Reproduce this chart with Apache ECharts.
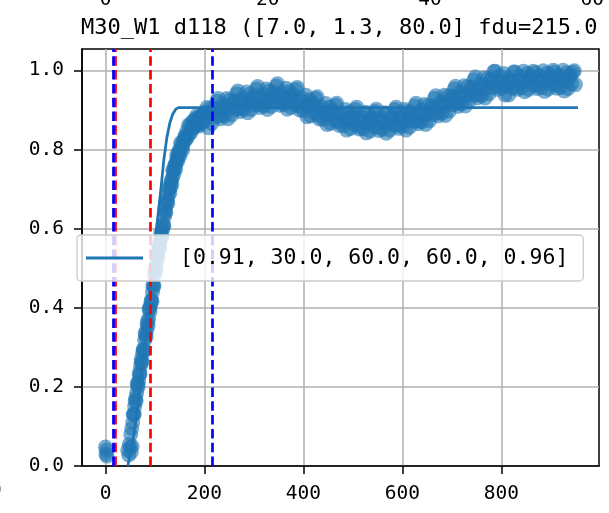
<!DOCTYPE html>
<html><head><meta charset="utf-8">
<script src="https://cdn.jsdelivr.net/npm/echarts@6/dist/echarts.min.js"></script>
<style>html,body{margin:0;padding:0;background:#fff}#c{width:609px;height:513px}</style>
</head><body><div id="c"></div>
<script>
// ---- data ----
const titleText = 'M30_W1 d118 ([7.0, 1.3, 80.0] fdu=215.0';
const legendLabel = '[0.91, 30.0, 60.0, 60.0, 0.96]';
const xTicks = [0, 200, 400, 600, 800];
const yTicks = [0, 0.2, 0.4, 0.6, 0.8, 1.0];
const topTicks = [0, 20, 40, 60];
const blueLines = [15, 215];
const redLines = [20, 91];

const scatterX = [0,1,2,3,5,10,15,20,25,30,35,40,
45,47,48,50,51,52,53,54,55,57,59,61,63,65,67,69,71,73,75,77,79,81,83,85,87,89,91,93,95,97,99,
101,103,105,107,109,111,113,115,117,119,121,123,125,127,129,131,133,135,137,139,141,143,145,147,149,
151,153,155,157,159,161,163,165,168,171,174,177,180,183,186,189,192,195,198,200,
205,210,215,220,225,230,235,240,245,250,255,260,265,270,275,280,285,290,295,300,
305,310,315,320,325,330,335,340,345,350,355,360,365,370,375,380,385,390,395,400,
405,410,415,420,425,430,435,440,445,450,455,460,465,470,475,480,485,490,495,500,
505,510,515,520,525,530,535,540,545,550,555,560,565,570,575,580,585,590,595,600,
605,610,615,620,625,630,635,640,645,650,655,660,665,670,675,680,685,690,695,700,
705,710,715,720,725,730,735,740,745,750,755,760,765,770,775,780,785,790,795,800,
805,810,815,820,825,830,835,840,845,850,855,860,865,870,875,880,885,890,895,900,
905,910,915,920,925,930,935,940,945,950];
const scatterY = [0.048,0.03,0.04,0.025,-0.04,-0.05,-0.05,-0.04,-0.05,-0.04,-0.04,-0.03,
0.040,0.028,0.055,0.048,0.080,0.035,0.095,0.050,0.110,0.130,0.150,0.172,0.185,0.205,0.215,0.238,0.255,0.262,0.285,0.295,0.318,0.330,0.342,0.365,0.372,0.398,0.405,0.420,0.440,0.452,0.482,
0.500,0.512,0.532,0.545,0.562,0.570,0.585,0.598,0.610,0.630,0.642,0.660,0.672,0.685,0.700,0.703,0.722,0.728,0.745,0.750,0.762,0.768,0.780,0.782,0.798,
0.796,0.812,0.805,0.822,0.818,0.835,0.828,0.848,0.838,0.862,0.850,0.872,0.858,0.878,0.862,0.882,0.866,0.886,0.870,0.890,
0.906,0.883,0.866,0.903,0.922,0.885,0.904,0.885,0.929,0.905,0.887,0.923,0.941,0.903,0.921,0.901,0.945,0.920,0.901,0.936,
0.953,0.914,0.931,0.910,0.953,0.928,0.909,0.944,0.960,0.920,0.936,0.914,0.955,0.928,0.906,0.938,0.952,0.910,0.923,0.898,
0.937,0.908,0.885,0.916,0.929,0.886,0.900,0.876,0.916,0.888,0.866,0.898,0.912,0.870,0.884,0.860,0.901,0.874,0.853,0.886,
0.901,0.860,0.875,0.852,0.894,0.867,0.847,0.880,0.896,0.856,0.872,0.851,0.893,0.868,0.849,0.884,0.901,0.862,0.879,0.858,
0.901,0.876,0.857,0.892,0.910,0.872,0.890,0.870,0.914,0.890,0.873,0.910,0.929,0.892,0.911,0.892,0.937,0.914,0.897,0.934,
0.953,0.916,0.935,0.916,0.961,0.938,0.921,0.958,0.976,0.938,0.956,0.936,0.981,0.958,0.941,0.978,0.997,0.960,0.977,0.955,
0.992,0.961,0.938,0.975,0.996,0.960,0.977,0.956,0.998,0.972,0.952,0.986,0.998,0.962,0.978,0.956,0.999,0.973,0.953,0.987,
1.000,0.963,0.979,0.957,1.000,0.974,0.954,0.988,0.995,0.964];

// second pass of samples (interleaved between the first ones)
const risingX2 = [56,58,60,62,64,66,68,70,72,74,76,78,80,82,84,86,88,90,92,94,96,98,100,
102,104,106,108,110,112,114,116,118,120,122,124,126,128,130,132,134,136,138,140,142,144,146,148,150,
152,156,160,164,168,172,176,180,184,188,192,196,200];
const risingY2 = [0.130,0.130,0.164,0.164,0.208,0.200,0.230,0.232,0.270,0.264,0.294,0.292,0.336,0.326,0.358,0.354,0.397,0.390,0.416,0.416,0.458,0.457,0.494,
0.492,0.534,0.528,0.557,0.552,0.590,0.580,0.608,0.606,0.648,0.641,0.670,0.664,0.704,0.690,0.716,0.711,0.748,0.737,0.760,0.751,0.786,0.771,0.794,0.783,
0.817,0.799,0.831,0.827,0.862,0.841,0.870,0.858,0.885,0.859,0.883,0.869,0.894];
const flatX2 = [207.5,212.5,217.5,222.5,227.5,232.5,237.5,242.5,247.5,252.5,257.5,262.5,267.5,272.5,277.5,282.5,287.5,292.5,297.5,302.5,
307.5,312.5,317.5,322.5,327.5,332.5,337.5,342.5,347.5,352.5,357.5,362.5,367.5,372.5,377.5,382.5,387.5,392.5,397.5,402.5,
407.5,412.5,417.5,422.5,427.5,432.5,437.5,442.5,447.5,452.5,457.5,462.5,467.5,472.5,477.5,482.5,487.5,492.5,497.5,502.5,
507.5,512.5,517.5,522.5,527.5,532.5,537.5,542.5,547.5,552.5,557.5,562.5,567.5,572.5,577.5,582.5,587.5,592.5,597.5,602.5,
607.5,612.5,617.5,622.5,627.5,632.5,637.5,642.5,647.5,652.5,657.5,662.5,667.5,672.5,677.5,682.5,687.5,692.5,697.5,702.5,
707.5,712.5,717.5,722.5,727.5,732.5,737.5,742.5,747.5,752.5,757.5,762.5,767.5,772.5,777.5,782.5,787.5,792.5,797.5,802.5,
807.5,812.5,817.5,822.5,827.5,832.5,837.5,842.5,847.5,852.5,857.5,862.5,867.5,872.5,877.5,882.5,887.5,892.5,897.5,902.5,
907.5,912.5,917.5,922.5,927.5,932.5,937.5,942.5,947.5];
const flatY2 = [0.855,0.904,0.895,0.882,0.929,0.878,0.913,0.902,0.878,0.926,0.916,0.902,0.948,0.896,0.930,0.918,0.893,0.940,0.929,0.914,
0.959,0.906,0.939,0.926,0.901,0.948,0.937,0.922,0.966,0.912,0.944,0.929,0.902,0.947,0.933,0.915,0.957,0.900,0.929,0.912,
0.883,0.926,0.911,0.892,0.933,0.877,0.907,0.891,0.863,0.907,0.893,0.875,0.917,0.861,0.891,0.876,0.849,0.894,0.881,0.864,
0.907,0.852,0.883,0.868,0.842,0.887,0.875,0.858,0.902,0.848,0.880,0.867,0.841,0.888,0.877,0.862,0.907,0.854,0.887,0.874,
0.849,0.896,0.885,0.871,0.917,0.865,0.899,0.887,0.863,0.911,0.902,0.889,0.936,0.885,0.920,0.909,0.886,0.935,0.926,0.913,
0.960,0.909,0.944,0.933,0.910,0.959,0.950,0.937,0.983,0.931,0.965,0.953,0.930,0.979,0.970,0.957,0.998,0.952,0.985,0.969,
0.938,0.979,0.967,0.955,0.996,0.952,0.985,0.972,0.946,0.992,0.980,0.964,0.994,0.954,0.986,0.972,0.947,0.993,0.981,0.965,
0.996,0.955,0.987,0.973,0.948,0.994,0.982,0.966,0.999];

const fitX = [45, 55, 65, 75, 85, 95, 105, 112, 118, 124, 130, 136, 142, 148, 955];
const fitY = [0, 0.06, 0.15, 0.26, 0.38, 0.50, 0.62, 0.70, 0.775, 0.83, 0.867, 0.89, 0.902, 0.906, 0.906];

// axis ranges
const xMin = -47.5, xMax = 997.5;
const yMin = 0, yMax = 1.054;
const topPerX = 16.4; // bottom-axis units per top-axis unit

const FONT = 'DejaVu Sans Mono';
const C = '#1f77b4';

const chart = echarts.init(document.getElementById('c'), null, {renderer: 'canvas'});
const pairs = (xs, ys) => xs.map((x, i) => [x, ys[i]]);
const scatterData = pairs(scatterX, scatterY).concat(pairs(risingX2, risingY2), pairs(flatX2, flatY2));
const fitData = pairs(fitX, fitY);
const dash = {type: [9.5, 4.3], width: 2.7};

chart.setOption({
  animation: false,
  backgroundColor: '#fff',
  title: {
    text: titleText, left: 81, top: 17, padding: 0,
    textStyle: {fontFamily: FONT, fontSize: 22, fontWeight: 'normal', color: '#000'}
  },
  grid: {left: 82, top: 49, right: 10, bottom: 47, outerBoundsMode: 'none', containLabel: false,
    show: true, borderColor: '#000', borderWidth: 1.5, backgroundColor: 'transparent'},
  legend: {
    left: 77, top: 235, orient: 'horizontal',
    padding: [12, 15, 12, 9],
    backgroundColor: 'rgba(255,255,255,0.8)', borderColor: '#cccccc', borderWidth: 1.3, borderRadius: 4,
    itemWidth: 57, itemHeight: 3,
    data: [{name: legendLabel, icon: 'rect'}],
    textStyle: {fontFamily: FONT, fontSize: 21.5, color: '#000', padding: [0, 0, 0, 32]},
    selectedMode: false, z: 10
  },
  xAxis: [{
    type: 'value', position: 'bottom', min: xMin, max: xMax, splitNumber: 5,
    axisLine: {show: true, onZero: false, lineStyle: {color: '#000', width: 1.5}},
    axisTick: {show: true, length: 8, customValues: xTicks, lineStyle: {color: '#000', width: 1.5}},
    axisLabel: {customValues: xTicks, margin: 18, fontFamily: FONT, fontSize: 19.5, color: '#000', formatter: v => String(v)},
    splitLine: {show: true, lineStyle: {color: '#b0b0b0', width: 1.5}}
  }, {
    type: 'value', position: 'top', min: xMin / topPerX, max: xMax / topPerX,
    axisLine: {show: false}, axisTick: {show: false}, splitLine: {show: false},
    axisLabel: {customValues: topTicks, margin: 39, fontFamily: FONT, fontSize: 19.5, color: '#000', formatter: v => String(v)}
  }],
  yAxis: {
    type: 'value', min: yMin, max: yMax, interval: 0.2,
    axisLine: {show: true, onZero: false, lineStyle: {color: '#000', width: 1.5}},
    axisTick: {show: true, length: 8, customValues: yTicks, lineStyle: {color: '#000', width: 1.5}},
    axisLabel: {customValues: yTicks, margin: 18, fontFamily: FONT, fontSize: 19.5, color: '#000', formatter: v => v.toFixed(1)},
    splitLine: {show: true, lineStyle: {color: '#b0b0b0', width: 1.5}}
  },
  series: [{
    name: legendLabel, type: 'line', data: fitData, symbol: 'none', showSymbol: false,
    lineStyle: {color: C, width: 2.8}, itemStyle: {color: C}, z: 2, silent: true
  }, {
    name: 'data', type: 'scatter', data: scatterData, symbolSize: 15, clip: true,
    itemStyle: {color: C, opacity: 0.6}, z: 3, silent: true
  }, {
    name: 'vlines', type: 'line', data: [], z: 4, silent: true,
    markLine: {
      silent: true, symbol: ['none', 'none'], label: {show: false}, animation: false,
      data: redLines.map(v => ({xAxis: v, lineStyle: Object.assign({color: '#ff0000'}, dash)}))
        .concat(blueLines.map(v => ({xAxis: v, lineStyle: Object.assign({color: '#0000ff'}, dash)})))
    }
  }],
  graphic: [{
    type: 'text', x: -10, y: 481, silent: true,
    style: {text: '0', fontFamily: FONT, fontSize: 19.5, fill: '#000'}
  }]
});
</script></body></html>
